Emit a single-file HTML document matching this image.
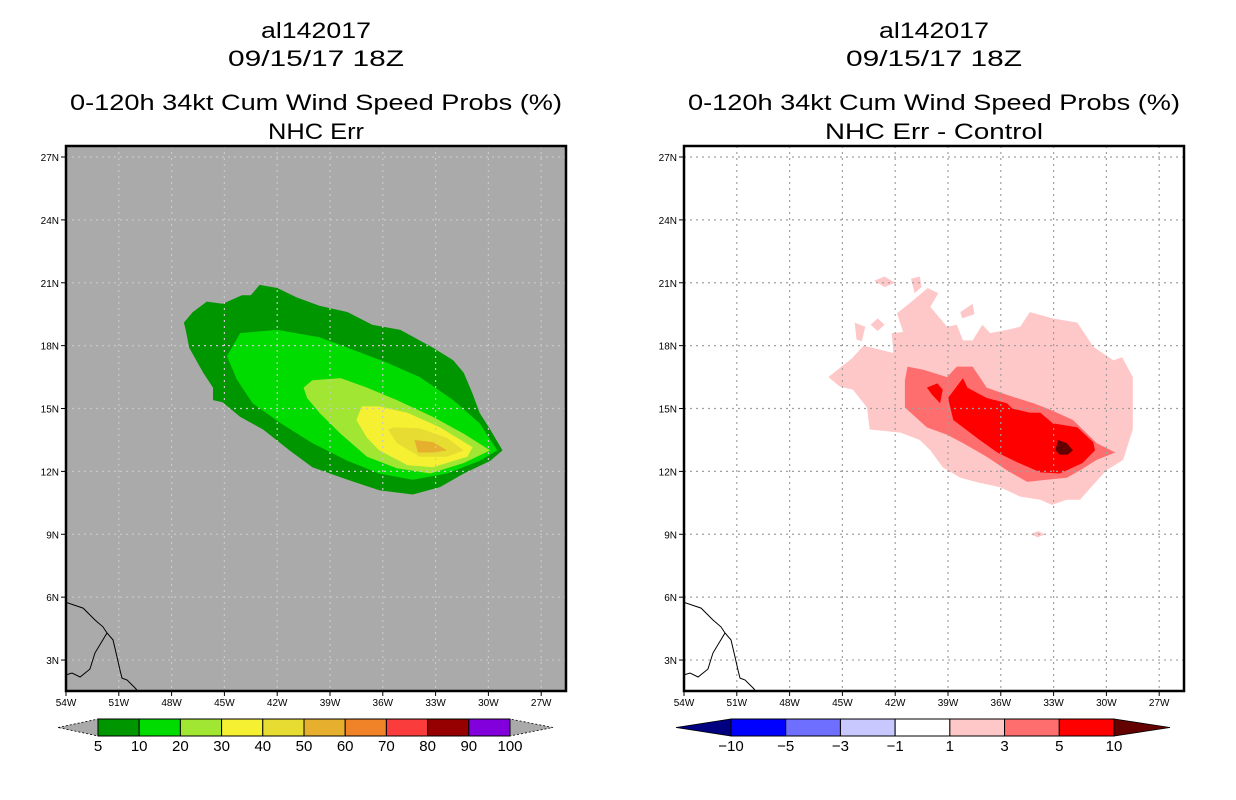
<!DOCTYPE html>
<html><head><meta charset="utf-8"><style>
html,body{margin:0;padding:0;background:#fff;}
svg{display:block;font-family:"Liberation Sans",sans-serif;}
</style></head><body>
<svg id="root" width="1236" height="800" xmlns="http://www.w3.org/2000/svg"></svg>
<script>
// ---- data (longitude in degrees West, latitude in degrees North) ----
const lonTicks = [54,51,48,45,42,39,36,33,30,27];
const latTicks = [27,24,21,18,15,12,9,6,3];
const leftLevels = ["5","10","20","30","40","50","60","70","80","90","100"];
const leftColors = ["#009600","#00dc00","#a0e632","#f5f032","#e6dc32","#e6af2d","#f08228","#fa3c3c","#960000","#8200dc"];
const rightLevels = ["-10","-5","-3","-1","1","3","5","10"];
const rightColors = ["#0000ff","#6e6eff","#c8c8ff","#ffffff","#ffc8c8","#ff6e6e","#ff0000"];
const prob5 = [[47.3,19.1],[46.8,19.6],[46.0,20.1],[45.1,20.0],[44.0,20.4],[43.5,20.4],[43.0,20.9],[42.0,20.75],[40.9,20.3],[39.6,19.9],[38.0,19.6],[36.6,19.0],[35.0,18.75],[33.15,17.9],[32.0,17.3],[31.4,16.7],[30.9,15.7],[30.5,14.8],[29.9,14.0],[29.2,13.0],[29.9,12.5],[31.4,11.9],[32.75,11.25],[34.3,10.9],[36.2,11.1],[38.0,11.6],[40.0,12.2],[41.3,13.0],[42.8,14.0],[44.1,14.6],[45.1,15.3],[45.65,15.4],[45.65,16.0],[46.2,16.7],[47.0,17.9],[47.2,18.75]];
const prob10 = [[44.85,17.5],[44.1,18.6],[42.0,18.75],[39.6,18.4],[37.7,17.8],[35.8,17.2],[33.9,16.5],[32.0,15.4],[30.5,14.3],[29.5,13.0],[30.5,12.5],[32.35,11.9],[34.3,11.6],[36.2,11.9],[38.0,12.5],[40.0,13.35],[41.8,14.3],[43.4,15.25],[44.3,16.4]];
const prob20 = [[40.5,16.0],[40.0,16.35],[38.4,16.45],[36.9,16.0],[35.2,15.4],[33.15,14.6],[31.4,13.8],[29.9,13.0],[31.4,12.4],[33.3,11.9],[35.2,12.15],[36.9,12.7],[38.4,13.8],[39.6,14.8],[40.3,15.5]];
const prob30 = [[37.5,14.45],[37.2,15.1],[36.2,15.1],[34.6,14.8],[32.75,14.1],[30.9,13.15],[31.2,12.7],[33.15,12.2],[34.6,12.3],[36.2,13.0],[36.9,13.6]];
const prob40 = [[35.7,14.0],[35.4,14.1],[33.9,14.05],[32.35,13.6],[31.4,13.0],[32.35,12.7],[33.9,12.7],[35.2,13.35]];
const prob50 = [[34.2,13.5],[33.15,13.4],[32.35,13.0],[33.15,12.9],[34.0,12.9]];
const diff1 = [[45.8,16.5],[44.45,17.4],[43.8,18.0],[42.1,17.65],[42.2,18.6],[41.55,18.65],[41.9,19.55],[41.15,20.05],[40.15,20.75],[39.55,20.5],[40.0,19.85],[39.05,18.9],[38.5,19.0],[38.15,18.25],[37.6,18.25],[37.05,19.0],[36.6,18.6],[35.65,18.75],[34.9,18.9],[34.35,19.6],[33.05,19.3],[31.65,19.1],[30.75,17.95],[29.6,17.3],[29.1,17.45],[28.5,16.5],[28.5,14.0],[29.05,12.55],[30.0,12.05],[30.65,11.45],[31.5,10.65],[32.25,10.65],[33.1,10.4],[33.75,10.65],[34.9,10.8],[36.05,11.25],[37.2,11.45],[38.3,11.7],[39.3,12.2],[40.0,13.0],[40.6,13.5],[41.7,13.85],[43.45,14.0],[43.6,15.05],[44.4,15.9],[45.15,16.05]];
const diff1Islands = [
 [[43.2,21.1],[42.6,21.3],[42.0,21.0],[42.6,20.8]],
 [[41.1,21.2],[40.6,21.3],[40.5,20.8],[40.9,20.5]],
 [[38.3,19.6],[37.6,20.0],[37.5,19.5],[38.2,19.3]],
 [[44.3,19.1],[43.7,18.9],[43.9,18.2],[44.2,18.3]],
 [[43.4,19.0],[43.0,19.3],[42.6,19.0],[43.0,18.7]],
 [[34.3,9.0],[33.9,9.15],[33.5,9.0],[33.9,8.85]]
];
const diff3 = [[41.3,17.0],[40.4,16.85],[39.05,16.5],[38.5,17.0],[37.6,17.0],[36.8,16.0],[35.65,15.65],[34.15,15.25],[33.2,14.95],[31.9,14.45],[30.55,13.35],[29.5,12.9],[30.55,12.55],[31.5,12.05],[32.25,11.7],[33.4,11.6],[34.5,11.5],[35.65,12.05],[36.8,12.7],[38.15,13.35],[39.05,13.75],[40.2,14.1],[41.45,15.05],[41.45,16.35]];
const diff5 = [[39.0,15.5],[38.15,16.45],[37.9,16.0],[36.8,15.5],[35.65,15.25],[35.35,15.0],[34.35,14.8],[33.75,14.8],[33.05,14.3],[31.65,14.1],[30.75,13.4],[30.65,13.0],[31.35,12.4],[32.65,11.9],[33.75,11.95],[35.1,12.45],[36.2,12.9],[37.2,13.5],[38.7,14.45]];
const diff5Island = [[40.2,16.0],[39.6,16.2],[39.3,15.9],[39.45,15.25],[39.9,15.65]];
const diff10 = [[32.9,13.0],[32.75,13.5],[32.25,13.35],[31.9,13.0],[32.2,12.8],[32.65,12.8]];
const coastA = [[54.0,5.75],[53.03,5.48],[52.35,4.91],[51.9,4.58],[51.67,4.29],[51.33,3.96],[51.1,3.15],[50.93,2.52],[50.82,2.14],[50.53,2.05],[50.08,1.67],[49.97,1.57]];
const coastB = [[54.0,2.29],[53.66,2.38],[53.2,2.19],[52.64,2.57],[52.35,3.34],[51.67,4.29]];

// ---- geometry ----
const NS = "http://www.w3.org/2000/svg";
const root = document.getElementById('root');
const PW = 500, PH = 545, PT = 146;
const panels = [{x0:66, bg:"#aaaaaa", grid:"#c8c8c8"},{x0:684, bg:"#ffffff", grid:"#a0a0a0"}];
function xScale(p, w){ return p.x0 + (54 - w) * 17.6; }
function yScale(n){ return 157 + (27 - n) * 20.96; }
function el(tag, attrs, parent){
  const e = document.createElementNS(NS, tag);
  for (const k in attrs) e.setAttribute(k, attrs[k]);
  (parent||root).appendChild(e);
  return e;
}
function pts(p, arr){ return arr.map(d => xScale(p,d[0]).toFixed(1)+","+yScale(d[1]).toFixed(1)).join(" "); }
function text(str, x, y, size, parent, anchor, len){
  const t = el('text', {x:x, y:y, 'font-size':size, 'text-anchor':anchor||'middle', fill:'#000'}, parent);
  if (len){ t.setAttribute('textLength', len); t.setAttribute('lengthAdjust','spacingAndGlyphs'); }
  t.textContent = str;
  return t;
}

const titles = [["al142017","09/15/17 18Z","0-120h 34kt Cum Wind Speed Probs (%)","NHC Err"],
                ["al142017","09/15/17 18Z","0-120h 34kt Cum Wind Speed Probs (%)","NHC Err - Control"]];
const titleY = [38, 66, 110, 139];
const titleLen = [110, 176, 492, 96];
const titleLenR = [110, 176, 492, 218];

panels.forEach((p, pi) => {
  const g = el('g', {});
  
  
  const cx = p.x0 + PW/2;
  titles[pi].forEach((s, i) => {
    const t = text(s, cx, titleY[i], 22, g, 'middle', (pi===0?titleLen:titleLenR)[i]);
    
    
  });
  const clipId = 'clip'+pi;
  const cp = el('clipPath', {id:clipId}, g);
  el('rect', {x:p.x0, y:PT, width:PW, height:PH}, cp);
  const bg = el('rect', {x:p.x0, y:PT, width:PW, height:PH, fill:p.bg}, g);
  
  
  const fg = el('g', {'clip-path':'url(#'+clipId+')'}, g);
  function poly(arr, color, name){
    const pl = el('polygon', {points:pts(p, arr), fill:color}, fg);
    
    
  }
  if (pi === 0){
    poly(prob5, leftColors[0], 'contour-5pct');
    poly(prob10, leftColors[1], 'contour-10pct');
    poly(prob20, leftColors[2], 'contour-20pct');
    poly(prob30, leftColors[3], 'contour-30pct');
    poly(prob40, leftColors[4], 'contour-40pct');
    poly(prob50, leftColors[5], 'contour-50pct');
  } else {
    poly(diff1, rightColors[4], 'contour-diff-1');
    diff1Islands.forEach(a => poly(a, rightColors[4], 'contour-diff-1-island'));
    poly(diff3, rightColors[5], 'contour-diff-3');
    poly(diff5, rightColors[6], 'contour-diff-5');
    poly(diff5Island, rightColors[6], 'contour-diff-5-island');
    poly(diff10, "#640000", 'contour-diff-10');
  }
  // grid
  lonTicks.forEach(w => {
    const l = el('line', {x1:xScale(p,w), x2:xScale(p,w), y1:PT, y2:PT+PH, stroke:p.grid, 'stroke-width':1.2, 'stroke-dasharray':'2,4'}, fg);
    
    
  });
  latTicks.forEach(n => {
    const l = el('line', {x1:p.x0, x2:p.x0+PW, y1:yScale(n), y2:yScale(n), stroke:p.grid, 'stroke-width':1.2, 'stroke-dasharray':'2,4'}, fg);
    
    
  });
  [coastA, coastB].forEach(c => {
    const pl = el('polyline', {points:pts(p, c), fill:'none', stroke:'#000', 'stroke-width':1}, fg);
    
    
  });
  const fr = el('rect', {x:p.x0, y:PT, width:PW, height:PH, fill:'none', stroke:'#000', 'stroke-width':2.5}, g);
  
  
  lonTicks.forEach(w => {
    const x = xScale(p,w);
    el('line', {x1:x, x2:x, y1:PT+PH, y2:PT+PH+5, stroke:'#000', 'stroke-width':1}, g);
    const t = text(w+"W", x, PT+PH+15, 10, g, 'middle');
    
    
  });
  latTicks.forEach(n => {
    const y = yScale(n);
    el('line', {x1:p.x0-5, x2:p.x0, y1:y, y2:y, stroke:'#000', 'stroke-width':1}, g);
    const t = text(n+"N", p.x0-7, y+4, 10, g, 'end');
    
    
  });
});

// ---- colorbars ----
function colorbar(x0, x1, tipL, tipR, colors, levels, lowTri, highTri, name){
  const g = el('g', {});
  
  
  const y0 = 719, y1 = 736, ym = 727.5;
  el('polygon', {points:`${tipL},${ym} ${x0},${y0} ${x0},${y1}`, fill:lowTri, stroke:'#000', 'stroke-width':0.8, 'stroke-dasharray':lowTri==='#aaaaaa'?'2,2':'none'}, g);
  el('polygon', {points:`${tipR},${ym} ${x1},${y0} ${x1},${y1}`, fill:highTri, stroke:'#000', 'stroke-width':0.8, 'stroke-dasharray':highTri==='#aaaaaa'?'2,2':'none'}, g);
  const bw = (x1 - x0) / colors.length;
  colors.forEach((c, i) => {
    const r = el('rect', {x:x0+i*bw, y:y0, width:bw, height:y1-y0, fill:c, stroke:'#000', 'stroke-width':1}, g);
    
    
  });
  levels.forEach((s, i) => {
    const t = text(s.replace('-', '\u2212'), x0+i*bw, 751, 15, g, 'middle');
    
    
  });
}
colorbar(98, 510, 58, 553, leftColors, leftLevels, '#aaaaaa', '#aaaaaa', 'probability-colorbar');
colorbar(731, 1114, 676, 1170, rightColors, rightLevels, '#000080', '#640000', 'difference-colorbar');
</script>
</body></html>
